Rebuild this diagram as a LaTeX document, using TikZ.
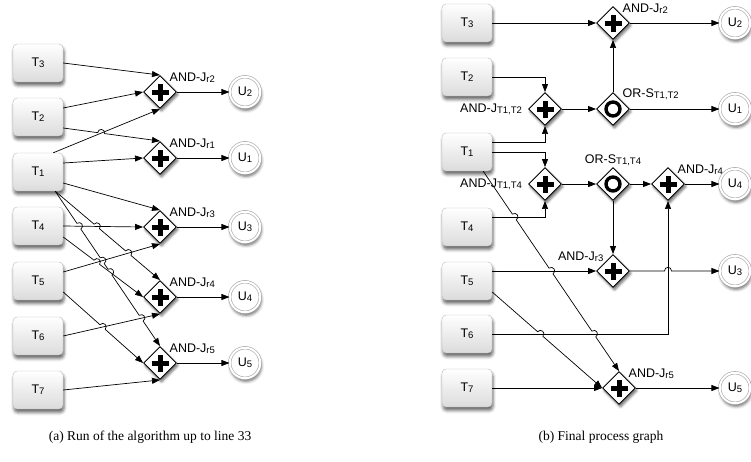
\documentclass[tikz,border=0pt]{standalone}
\usepackage{fontspec}
\setmainfont{Liberation Serif}
\newfontfamily\graphfont{Liberation Sans}
\usetikzlibrary{arrows.meta, calc, shapes.geometric, shadows.blur, intersections}

% small lowered index used in task and gateway names
\newcommand\ix[1]{\raisebox{-0.15ex}{\fontsize{9.5}{10}\selectfont #1}}
% break a flow with a small arc where it crosses another one
\newcommand\hopover[2]{-- ($(#1)!-3.5pt!(#2)$) to[hopbend] ($(#1)!3.5pt!(#2)$)}

\begin{document}
\begin{tikzpicture}[
  x=1pt, y=1pt,
  task/.style = {draw=gray!55, rounded corners=4pt, minimum width=50pt, minimum height=38pt,
    top color=white, bottom color=gray!28, font=\graphfont\fontsize{12.5}{13}\selectfont,
    blur shadow={shadow xshift=1pt, shadow yshift=-3.5pt, shadow blur radius=3pt, shadow opacity=60}},
  gate/.style = {diamond, draw, line width=0.9pt, fill=white, inner sep=0pt,
    minimum width=33pt, minimum height=33pt,
    blur shadow={shadow xshift=1.5pt, shadow yshift=-2.5pt, shadow blur radius=2.5pt, shadow opacity=60}},
  andgate/.style = {gate, path picture={
    \draw[line width=5pt]
      ([xshift=-8.5pt]path picture bounding box.center) -- ([xshift=8.5pt]path picture bounding box.center)
      ([yshift=-8.5pt]path picture bounding box.center) -- ([yshift=8.5pt]path picture bounding box.center);}},
  orgate/.style = {gate, path picture={
    \draw[line width=3.4pt] (path picture bounding box.center) circle (7pt);}},
  final/.style = {circle, draw=gray!70, line width=0.6pt, double=white, double distance=2pt,
    fill=white, minimum size=30.5pt, inner sep=0pt, font=\graphfont\fontsize{12.5}{13}\selectfont,
    blur shadow={shadow xshift=1pt, shadow yshift=-3pt, shadow blur radius=3pt, shadow opacity=60}},
  lbl/.style = {font=\graphfont\fontsize{12.5}{13}\selectfont, inner sep=1pt},
  flow/.style = {line width=0.7pt, -{Triangle[length=8pt, width=6pt]}},
  hopbend/.style = {bend left=90, looseness=1.8},
  caption/.style = {font=\fontsize{13.5}{16}\selectfont}
]
\useasboundingbox (0,0) rectangle (751,-461);

%%% (a) run up to line 33

% tasks
\foreach \i/\y in {3/63, 2/117, 1/172, 4/226, 5/281, 6/336, 7/390}
  \node[task] (aT\i) at (38,-\y) {T\ix{\i}};

% join gateways
\node[andgate, label={[lbl, anchor=south west]north east:AND-J\ix{r2}}] (aJ2) at (160,-92) {};
\node[andgate, label={[lbl, anchor=south west]north east:AND-J\ix{r1}}] (aJ1) at (160,-158) {};
\node[andgate, label={[lbl, anchor=south west]north east:AND-J\ix{r3}}] (aJ3) at (160,-227) {};
\node[andgate, label={[lbl, anchor=south west]north east:AND-J\ix{r4}}] (aJ4) at (160,-297) {};
\node[andgate, label={[lbl, anchor=south west]north east:AND-J\ix{r5}}] (aJ5) at (160,-363) {};

% end events
\foreach \i/\y in {2/92, 1/158, 3/227, 4/297, 5/363} {
  \node[final] (aU\i) at (245,-\y) {U\ix{\i}};
  \draw[flow] (aJ\i.east) -- (aU\i.west);
}

% crossings
\path[name path=a-t1j2] ([xshift=-10pt]aT1.north east) -- (aJ2.south);
\path[name path=a-t2j1] ([yshift=-11pt]aT2.east) -- (aJ1.north);
\path[name path=a-t4j3] (aT4.east) -- (aJ3.west);
\path[name path=a-t5j3] ([yshift=9pt]aT5.east) -- (aJ3.south);
\path[name path=a-t4j4] ([yshift=-11pt]aT4.east) -- (aJ4.west);
\path[name path=a-t6j4] (aT6.east) -- (aJ4.south);
\path[name path=a-t5j5] ([yshift=-11pt]aT5.east) -- (aJ5.west);
\path[name path=a-t1j4] ([xshift=-8pt]aT1.south east) -- (aJ4.north);
\path[name path=a-t1j5] ([xshift=-8pt]aT1.south east) -- (aJ5.north);
\path[name intersections={of=a-t2j1 and a-t1j2, by=ax1}];
\path[name intersections={of=a-t1j4 and a-t4j3, by=ax2}];
\path[name intersections={of=a-t1j4 and a-t5j3, by=ax3}];
\path[name intersections={of=a-t1j5 and a-t4j3, by=ax4}];
\path[name intersections={of=a-t1j5 and a-t5j3, by=ax5}];
\path[name intersections={of=a-t1j5 and a-t4j4, by=ax6}];
\path[name intersections={of=a-t1j5 and a-t6j4, by=ax7}];
\path[name intersections={of=a-t4j4 and a-t5j3, by=ax8}];
\path[name intersections={of=a-t5j5 and a-t6j4, by=ax9}];

% flows
\draw[flow] (aT3.east) -- (aJ2.north);
\draw[flow] ([yshift=9pt]aT2.east) -- (aJ2.west);
\draw[flow] ([xshift=-10pt]aT1.north east) -- (aJ2.south);
\draw[flow] ([yshift=-11pt]aT2.east) \hopover{ax1}{aJ1.north} -- (aJ1.north);
\draw[flow] ([yshift=9pt]aT1.east) -- (aJ1.west);
\draw[flow] ([yshift=-11pt]aT1.east) -- (aJ3.north);
\draw[flow] (aT4.east) -- (aJ3.west);
\draw[flow] ([yshift=9pt]aT5.east) -- (aJ3.south);
\draw[flow] ([xshift=-8pt]aT1.south east) \hopover{ax2}{aJ4.north} \hopover{ax3}{aJ4.north} -- (aJ4.north);
\draw[flow] ([yshift=-11pt]aT4.east) \hopover{ax8}{aJ4.west} -- (aJ4.west);
\draw[flow] (aT6.east) -- (aJ4.south);
\draw[flow] ([xshift=-8pt]aT1.south east) \hopover{ax4}{aJ5.north} \hopover{ax5}{aJ5.north}
  \hopover{ax6}{aJ5.north} \hopover{ax7}{aJ5.north} -- (aJ5.north);
\draw[flow] ([yshift=-11pt]aT5.east) \hopover{ax9}{aJ5.west} -- (aJ5.west);
\draw[flow] (aT7.east) -- (aJ5.south);

\node[caption] (capA) at (150,-437) {(a) Run of the algorithm up to line 33};

%%% (b) final process graph

% tasks
\foreach \i/\y in {3/23, 2/77, 1/152, 4/227, 5/281, 6/334, 7/388}
  \node[task] (bT\i) at (467,-\y) {T\ix{\i}};

% gateways
\node[andgate, label={[lbl, anchor=south west]north east:AND-J\ix{r2}}] (bJ2) at (613,-23) {};
\node[andgate, label={[lbl, xshift=-5pt]west:AND-J\ix{T1,T2}}] (bJ12) at (545,-109) {};
\node[orgate, label={[lbl, anchor=south west]north east:OR-S\ix{T1,T2}}] (bS12) at (613,-109) {};
\node[andgate, label={[lbl, xshift=-5pt]west:AND-J\ix{T1,T4}}] (bJ14) at (545,-184) {};
\node[orgate, label={[lbl]above:OR-S\ix{T1,T4}}] (bS14) at (613,-184) {};
\node[andgate, label={[lbl, anchor=south west]north east:AND-J\ix{r4}}] (bJ4) at (668,-184) {};
\node[andgate, label={[lbl, anchor=south east]north west:AND-J\ix{r3}}] (bJ3) at (613,-271) {};
\node[andgate, label={[lbl, anchor=south west]north east:AND-J\ix{r5}}] (bJ5) at (619,-388) {};

% end events
\foreach \i/\y in {2/23, 1/109, 4/184, 3/271, 5/388}
  \node[final] (bU\i) at (735,-\y) {U\ix{\i}};

% crossings
\path[name path=b-t4] ([yshift=10pt]bT4.east) -| (bJ14.south);
\path[name path=b-t5j3] (bT5.east |- bJ3.west) -- (bJ3.west);
\path[name path=b-t6] (bT6.east) -| (bJ4.south);
\path[name path=b-t1j5] ([xshift=-9pt]bT1.south east) -- (bJ5.north);
\path[name path=b-t5j5] ([yshift=-11pt]bT5.east) -- (bJ5.west);
\path[name path=b-j3u3] (bJ3.east) -- (bU3.west);
\path[name intersections={of=b-t1j5 and b-t4, by=bx1}];
\path[name intersections={of=b-t1j5 and b-t5j3, by=bx2}];
\path[name intersections={of=b-t1j5 and b-t6, by=bx3}];
\path[name intersections={of=b-t5j5 and b-t6, by=bx4}];
\path[name intersections={of=b-j3u3 and b-t6, by=bx5}];

% flows
\draw[flow] (bT3.east) -- (bJ2.west);
\draw[flow] (bT2.east) -| (bJ12.north);
\draw[flow] ([yshift=10pt]bT1.east) -| (bJ12.south);
\draw[flow] (bT1.east) -| (bJ14.north);
\draw[flow] ([yshift=10pt]bT4.east) -| (bJ14.south);
\draw[flow] (bJ12.east) -- (bS12.west);
\draw[flow] (bS12.north) -- (bJ2.south);
\draw[flow] (bJ2.east) -- (bU2.west);
\draw[flow] (bS12.east) -- (bU1.west);
\draw[flow] (bJ14.east) -- (bS14.west);
\draw[flow] (bS14.east) -- (bJ4.west);
\draw[flow] (bS14.south) -- (bJ3.north);
\draw[flow] (bJ4.east) -- (bU4.west);
\draw[flow] (bT5.east |- bJ3.west) -- (bJ3.west);
\draw[flow] (bJ3.east) \hopover{bx5}{bU3.west} -- (bU3.west);
\draw[flow] (bT6.east) -| (bJ4.south);
\draw[flow] ([xshift=-9pt]bT1.south east) \hopover{bx1}{bJ5.north} \hopover{bx2}{bJ5.north}
  \hopover{bx3}{bJ5.north} -- (bJ5.north);
\draw[flow] ([yshift=-11pt]bT5.east) \hopover{bx4}{bJ5.west} -- (bJ5.west);
\draw[flow] (bT7.east) -- (bJ5.west);
\draw[flow] (bJ5.east) -- (bU5.west);

\node[caption] (capB) at (601,-437) {(b) Final process graph};
\end{tikzpicture}
\end{document}
